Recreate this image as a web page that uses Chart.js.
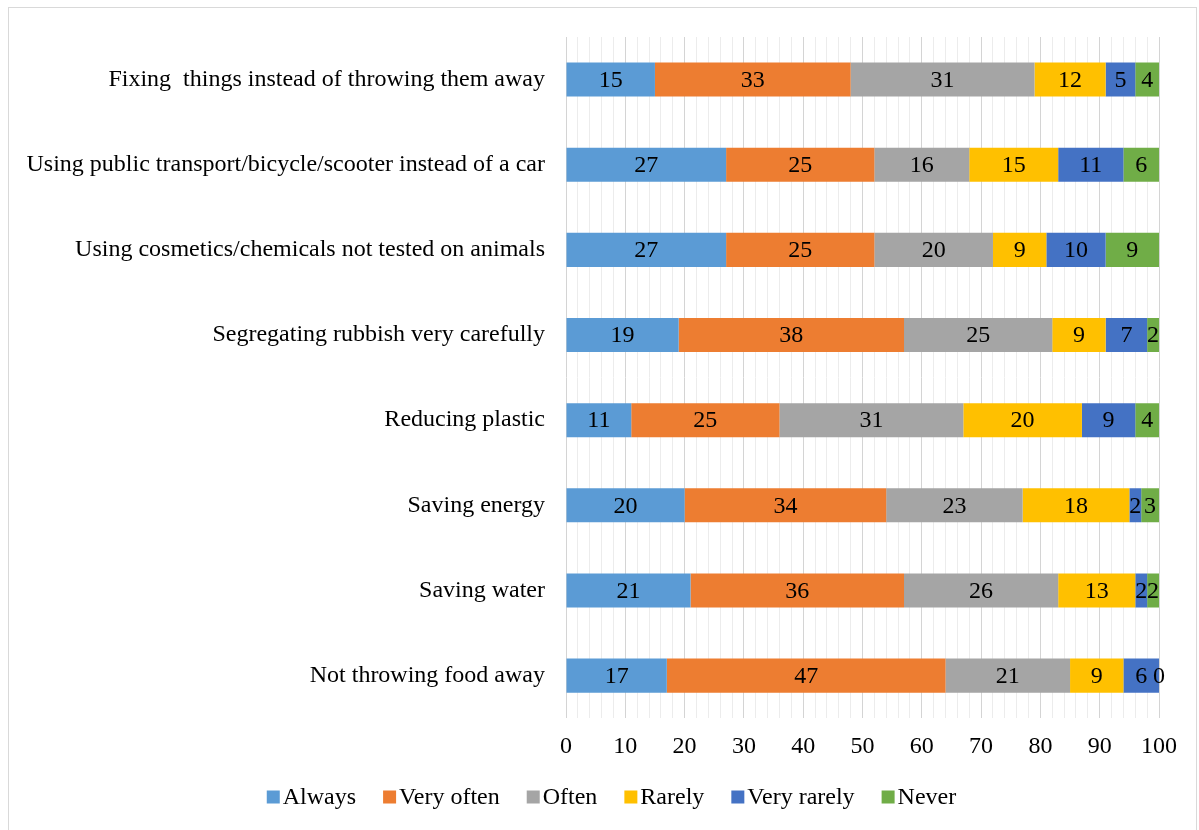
<!DOCTYPE html>
<html>
<head>
<meta charset="utf-8">
<script src="https://cdn.jsdelivr.net/npm/chart.js@4/dist/chart.umd.min.js"></script>
<style>
  html, body { margin: 0; padding: 0; background: #fff; }
  #frame {
    position: absolute; left: 8px; top: 7px; width: 1189px; height: 830px;
    border: 1px solid #d9d9d9; box-sizing: border-box;
  }
  #wrap { position: absolute; left: 0; top: 0; width: 1199px; height: 830px; }
</style>
</head>
<body>
<div id="frame"></div>
<div id="wrap"><canvas id="chart"></canvas></div>
<script>
// answers per behaviour, top row first
const categories = [
  "Fixing  things instead of throwing them away",
  "Using public transport/bicycle/scooter instead of a car",
  "Using cosmetics/chemicals not tested on animals",
  "Segregating rubbish very carefully",
  "Reducing plastic",
  "Saving energy",
  "Saving water",
  "Not throwing food away"
];

const always     = [15, 27, 27, 19, 11, 20, 21, 17];
const veryOften  = [33, 25, 25, 38, 25, 34, 36, 47];
const often      = [31, 16, 20, 25, 31, 23, 26, 21];
const rarely     = [12, 15,  9,  9, 20, 18, 13,  9];
const veryRarely = [ 5, 11, 10,  7,  9,  2,  2,  6];
const never      = [ 4,  6,  9,  2,  4,  3,  2,  0];

const seriesNames = ["Always", "Very often", "Often", "Rarely", "Very rarely", "Never"];
const seriesData = [always, veryOften, often, rarely, veryRarely, never];
const seriesColors = ["#5B9BD5", "#ED7D31", "#A5A5A5", "#FFC000", "#4472C4", "#70AD47"];

const FONT = "'Liberation Serif', 'Times New Roman', serif";

// value written in the middle of every segment
const segmentLabels = {
  id: "segmentLabels",
  afterDatasetsDraw(chart) {
    const ctx = chart.ctx;
    ctx.save();
    ctx.font = "24px " + FONT;
    ctx.fillStyle = "#000";
    ctx.textAlign = "center";
    ctx.textBaseline = "middle";
    chart.data.datasets.forEach((ds, i) => {
      const meta = chart.getDatasetMeta(i);
      meta.data.forEach((bar, j) => {
        const x = (bar.x + bar.base) / 2;
        ctx.fillText(String(ds.data[j]), x, bar.y + 1);
      });
    });
    ctx.restore();
  }
};

// compact legend row under the axis: small square, tight gap, label
const bottomLegend = {
  id: "bottomLegend",
  afterDraw(chart) {
    const ctx = chart.ctx;
    const box = 13, gap = 3, spacing = 27;
    ctx.save();
    ctx.font = "24px " + FONT;
    ctx.textBaseline = "middle";
    ctx.textAlign = "left";
    const widths = seriesNames.map(n => ctx.measureText(n).width);
    const total = widths.reduce((a, w) => a + box + gap + w, 0) + spacing * (seriesNames.length - 1);
    let x = (chart.width - total) / 2 + 12;
    const y = 797;
    seriesNames.forEach((name, i) => {
      ctx.fillStyle = seriesColors[i];
      ctx.fillRect(x, y - box / 2, box, box);
      ctx.fillStyle = "#000";
      ctx.fillText(name, x + box + gap, y + 1);
      x += box + gap + widths[i] + spacing;
    });
    ctx.restore();
  }
};

const ctx = document.getElementById("chart");

new Chart(ctx, {
  type: "bar",
  data: {
    labels: categories,
    datasets: seriesNames.map((name, i) => ({
      label: name,
      data: seriesData[i],
      backgroundColor: seriesColors[i],
      borderWidth: 0,
      barPercentage: 0.4,
      categoryPercentage: 1
    }))
  },
  options: {
    indexAxis: "y",
    responsive: true,
    maintainAspectRatio: false,
    animation: false,
    layout: { padding: { top: 37, right: 40, bottom: 55, left: 0 } },
    scales: {
      x: {
        stacked: true,
        min: 0,
        max: 100,
        border: { display: false },
        grid: {
          drawTicks: false,
          color: c => (c.tick && c.tick.value % 10 === 0) ? "#d4d4d4" : "#ececec",
          lineWidth: 1
        },
        ticks: {
          stepSize: 2,
          autoSkip: false,
          maxRotation: 0,
          padding: 14,
          color: "#000",
          font: { family: FONT, size: 24 },
          callback: v => (v % 10 === 0 ? v : "")
        }
      },
      y: {
        stacked: true,
        border: { display: false },
        grid: { display: false, drawTicks: false },
        afterFit: s => { s.width = 566; },
        ticks: {
          padding: 21,
          color: "#000",
          font: { family: FONT, size: 24 }
        }
      }
    },
    plugins: {
      tooltip: { enabled: false },
      legend: { display: false }
    }
  },
  plugins: [segmentLabels, bottomLegend]
});
</script>
</body>
</html>
